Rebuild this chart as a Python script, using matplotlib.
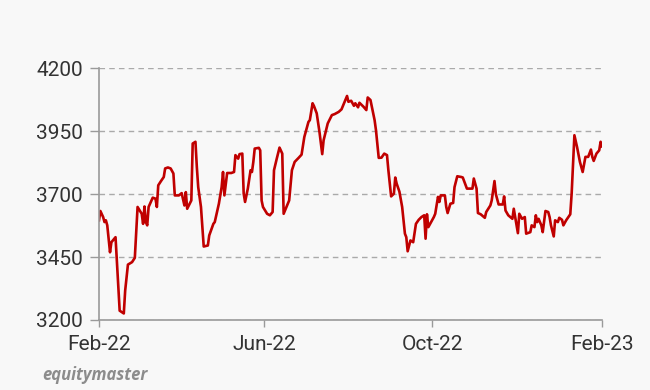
import pandas as pd
import matplotlib.pyplot as plt
import matplotlib.dates as mdates


# days since 1 Feb 2022, index level
days = [
    0, 1, 3, 4, 5, 6, 8, 9, 12, 15, 18, 19, 21, 24, 26, 28, 31, 32, 33, 34,
    35, 36, 39, 41, 42, 43, 45, 47, 48, 50, 52, 54, 55, 58, 60, 62, 63, 64, 67, 68,
    70, 71, 72, 74, 76, 79, 80, 83, 84, 87, 89, 90, 91, 93, 96, 98, 99, 101, 102, 104,
    105, 106, 108, 110, 111, 112, 113, 116, 117, 118, 119, 122, 124, 126, 127, 129, 131, 133, 134, 136,
    138, 140, 142, 145, 147, 149, 152, 153, 155, 156, 158, 160, 162, 163, 166, 169, 171, 174, 176, 178,
    180, 181, 183, 185, 186, 188, 189, 192, 194, 195, 197, 200, 201, 203, 205, 207, 209, 210, 212, 214,
    215, 216, 218, 220, 222, 223, 224, 226, 228, 230, 232, 234, 236, 237, 238, 239, 241, 243, 244, 246,
    247, 248, 251, 252, 253, 255, 257, 258, 260, 263, 264, 267, 269, 271, 272, 274, 275, 277, 280, 281,
    284, 285, 287, 288, 289, 290, 291, 293, 294, 295, 297, 300, 301, 302, 304, 305, 307, 309, 310, 313,
    314, 316, 317, 318, 319, 321, 322, 324, 326, 327, 328, 330, 331, 333, 334, 336, 337, 339, 342, 343,
    344, 345, 347, 349, 351, 353, 355, 357, 358, 359, 361, 363, 364, 365,
]

index_values = [
    3596, 3633, 3609, 3589, 3596, 3576, 3469, 3509, 3529, 3237, 3226, 3317, 3420, 3430, 3447, 3649, 3622, 3582, 3651, 3589,
    3576, 3649, 3686, 3682, 3649, 3735, 3752, 3768, 3802, 3806, 3802, 3782, 3695, 3695, 3704, 3655, 3708, 3642, 3675, 3901,
    3908, 3808, 3728, 3649, 3492, 3496, 3536, 3582, 3589, 3662, 3728, 3788, 3695, 3784, 3784, 3788, 3855, 3841, 3859, 3861,
    3702, 3669, 3722, 3795, 3788, 3828, 3881, 3884, 3874, 3675, 3649, 3622, 3616, 3629, 3795, 3841, 3885, 3861, 3622, 3649,
    3675, 3795, 3828, 3845, 3857, 3927, 3987, 3994, 4061, 4050, 4021, 3947, 3859, 3914, 3981, 4014, 4018, 4027, 4037, 4063,
    4090, 4067, 4071, 4051, 4061, 4045, 4063, 4047, 4034, 4084, 4074, 3994, 3954, 3844, 3845, 3861, 3855, 3795, 3691, 3702,
    3766, 3742, 3710, 3649, 3543, 3529, 3473, 3516, 3509, 3582, 3598, 3609, 3616, 3523, 3620, 3569, 3589, 3609, 3622, 3689,
    3669, 3695, 3695, 3649, 3625, 3662, 3665, 3728, 3771, 3768, 3766, 3722, 3722, 3722, 3762, 3722, 3625, 3620, 3606, 3629,
    3655, 3675, 3752, 3700, 3680, 3659, 3659, 3659, 3691, 3635, 3616, 3602, 3642, 3609, 3545, 3622, 3602, 3609, 3543, 3549,
    3576, 3569, 3616, 3589, 3602, 3576, 3549, 3633, 3629, 3609, 3576, 3532, 3596, 3589, 3606, 3598, 3576, 3596, 3620, 3702,
    3822, 3934, 3885, 3828, 3788, 3848, 3848, 3877, 3848, 3832, 3861, 3874, 3908, 3890,
]

y_ticks = [3200, 3450, 3700, 3950, 4200]
x_ticks = ["2022-02-01", "2022-06-01", "2022-10-01", "2023-02-01"]

dates = pd.Timestamp("2022-02-01") + pd.to_timedelta(days, unit="D")

bg = "#f8f8f8"
axis_grey = "#9a9a9a"
text_col = "#333333"

plt.rcParams["font.family"] = ["Roboto", "DejaVu Sans"]

fig = plt.figure(figsize=(6.5, 3.9), dpi=100, facecolor=bg)
ax = fig.add_axes([0.1523, 0.1795, 0.7738, 0.6454], facecolor=bg)

ax.plot(dates, index_values, color="#c00000", linewidth=1.9, solid_joinstyle="round")

ax.set_ylim(3200, 4200)
ax.set_yticks(y_ticks)
ax.set_xlim(pd.Timestamp(x_ticks[0]), pd.Timestamp(x_ticks[-1]))
ax.set_xticks(pd.to_datetime(x_ticks))
ax.xaxis.set_major_formatter(mdates.DateFormatter("%b-%y"))

ax.grid(True, axis="y", color="#aaaaaa", linestyle=(0, (4, 3)), linewidth=1.0)
ax.set_axisbelow(True)

for side in ["top", "right"]:
    ax.spines[side].set_visible(False)
for side in ["left", "bottom"]:
    ax.spines[side].set_color(axis_grey)
    ax.spines[side].set_linewidth(1.2)

ax.tick_params(axis="y", length=6.5, width=1.0, color=axis_grey,
               labelsize=15, labelcolor=text_col, pad=5)
ax.tick_params(axis="x", length=5, width=1.0, color=axis_grey,
               labelsize=15, labelcolor=text_col, pad=6)

fig.text(0.065, 0.025, "equitymaster", fontsize=12, fontstyle="italic",
         fontweight="bold", color="#8c8c8c", family=["Open Sans", "DejaVu Sans"])

fig.savefig("out.png", dpi=100, facecolor=bg)
